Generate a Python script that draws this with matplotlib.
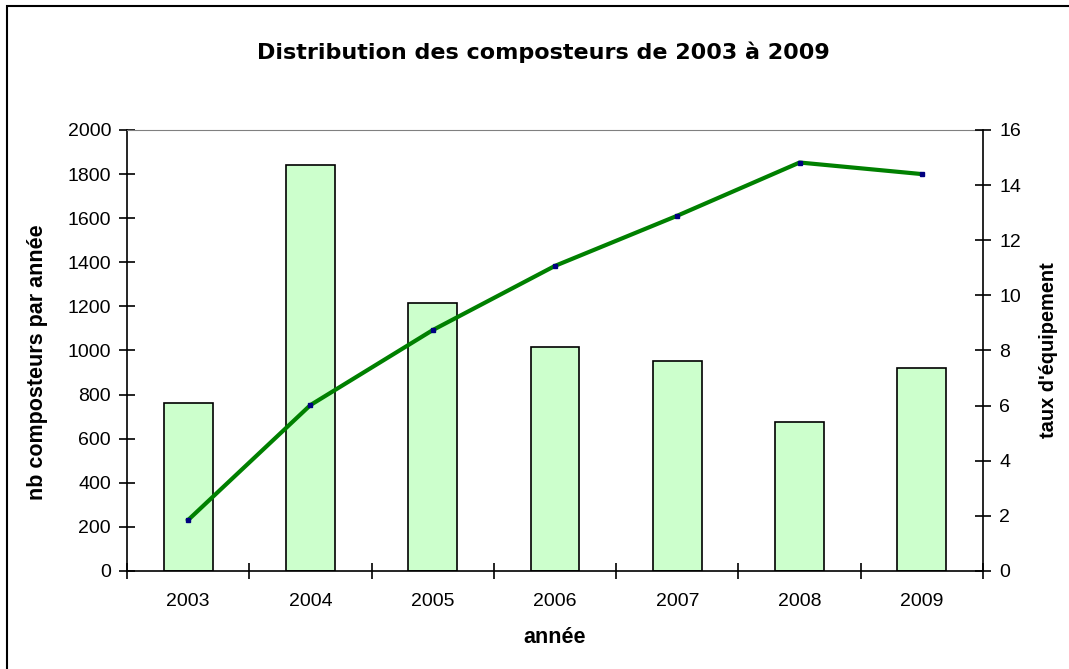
import matplotlib
matplotlib.use("Agg")
import matplotlib.pyplot as plt
from matplotlib.patches import Rectangle
import numpy as np

# data
annees = ["2003", "2004", "2005", "2006", "2007", "2008", "2009"]
nb_composteurs = [762, 1841, 1215, 1016, 952, 676, 921]
taux_equipement = [1.85, 6.02, 8.74, 11.07, 12.89, 14.82, 14.40]

plt.rcParams['font.family'] = ['Liberation Sans', 'DejaVu Sans']

fig = plt.figure(figsize=(10.69, 6.69), dpi=100)
ax = fig.add_axes([0.1188, 0.1465, 0.8008, 0.6592])
x = np.arange(len(annees))

ax.bar(x, nb_composteurs, width=0.4, color='#ccffcc', edgecolor='black', linewidth=1.2, zorder=2)
ax.set_xlim(-0.5, len(annees) - 0.5)
ax.set_ylim(0, 2000)
ax.set_yticks(np.arange(0, 2001, 200))
ax.set_xticks(x)
ax.set_xticklabels(annees)
ax.set_xticks(np.arange(-0.5, len(annees), 1.0), minor=True)
ax.tick_params(axis='x', which='major', length=0, labelsize=14, pad=16)
ax.tick_params(axis='x', which='minor', direction='inout', length=11, width=1.2)
ax.tick_params(axis='y', direction='inout', length=11, width=1.2, labelsize=14, pad=6)
ax.spines['top'].set_color('#808080')
ax.spines['top'].set_linewidth(0.8)
ax.spines['left'].set_linewidth(1.2)
ax.spines['bottom'].set_linewidth(1.2)
ax.spines['right'].set_visible(False)
ax.set_xlabel("année", fontsize=15.5, fontweight='bold')
ax.xaxis.label.set_va('center')
ax.xaxis.set_label_coords(0.5, -0.15)
ax.set_ylabel("nb composteurs par année", fontsize=15.5, fontweight='bold')
ax.yaxis.label.set_va('center')
ax.yaxis.set_label_coords(-0.105, 0.474)

ax2 = ax.twinx()
ax2.plot(x, taux_equipement, color='#008000', lw=3, zorder=3,
         marker='s', markersize=2.5, markerfacecolor='#000080', markeredgecolor='#000080')
ax2.set_ylim(0, 16)
ax2.set_yticks(np.arange(0, 17, 2))
ax2.tick_params(axis='y', direction='inout', length=11, width=1.2, labelsize=14, pad=6)
for s in ['top', 'left', 'bottom']:
    ax2.spines[s].set_visible(False)
ax2.spines['right'].set_linewidth(1.2)
ax2.set_ylabel("taux d'équipement", fontsize=14.4, fontweight='bold')
ax2.yaxis.label.set_va('center')
ax2.yaxis.set_label_coords(1.076, 0.5)

fig.text(0.508, 0.922, "Distribution des composteurs de 2003 à 2009",
         ha='center', va='center', fontsize=16, fontweight='bold', family='DejaVu Sans')

# outer frame of the chart
fig.patches.append(Rectangle((7 / 1069, -0.05), 1.1, (669 - 6) / 669 + 0.05,
                             transform=fig.transFigure, fill=False,
                             edgecolor='black', linewidth=1.5))

fig.savefig("out.png", dpi=100)
